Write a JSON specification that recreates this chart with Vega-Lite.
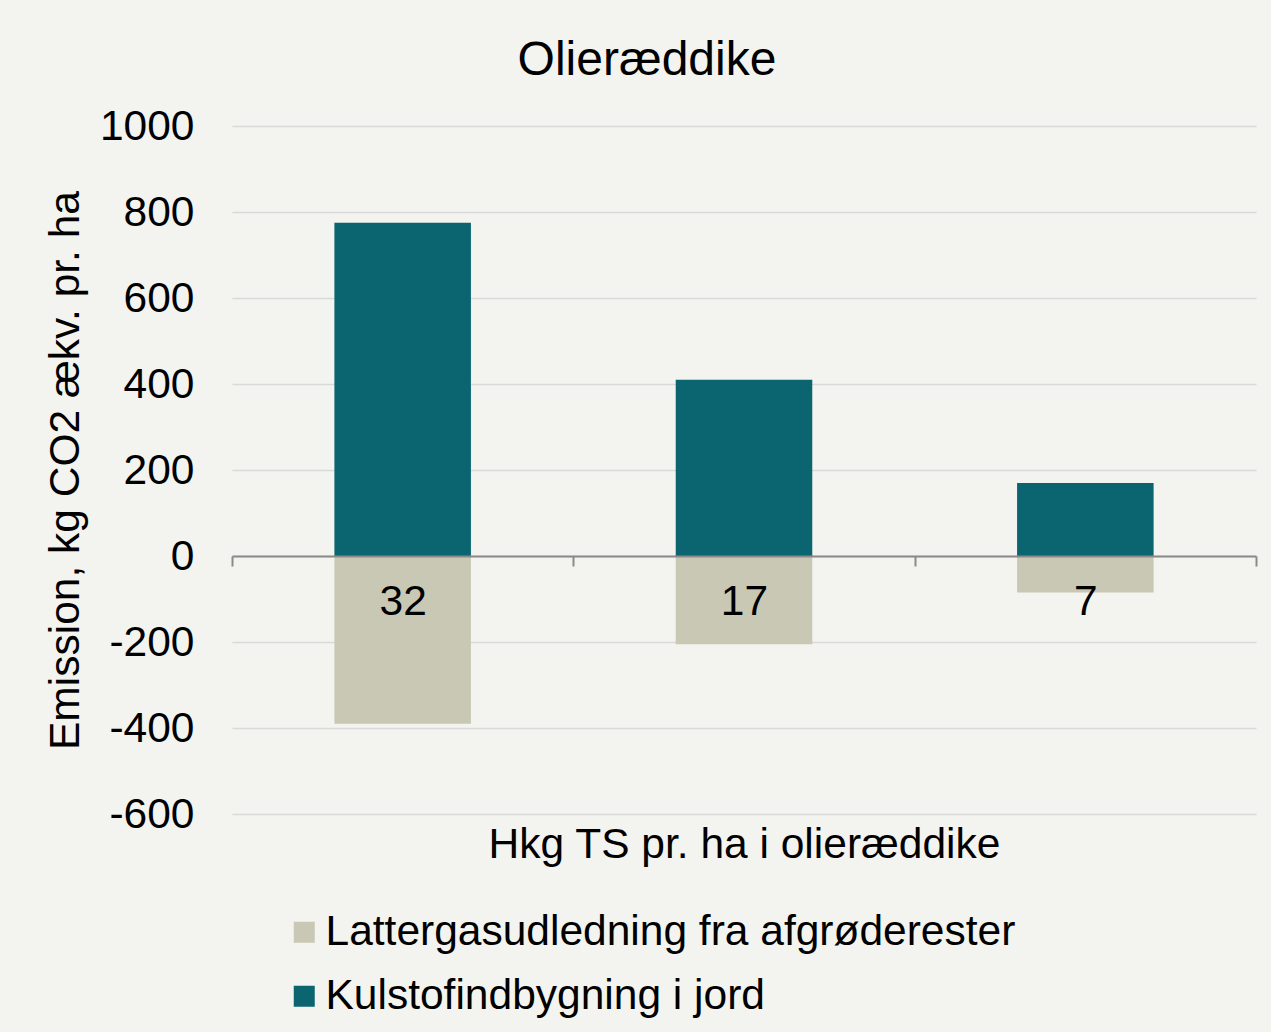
{
  "$schema": "https://vega.github.io/schema/vega-lite/v6.json",
  "autosize": {"type": "none"},
  "width": 1024,
  "height": 688,
  "padding": {"left": 232, "top": 126, "right": 15, "bottom": 218},
  "background": "#f3f3ef",
  "config": {
    "font": "Liberation Sans",
    "view": {"stroke": null}
  },
  "title": {
    "text": "Olieræddike",
    "fontSize": 48,
    "fontWeight": "normal",
    "color": "#000000",
    "anchor": "middle",
    "dx": -97,
    "offset": 20
  },
  "data": {
    "values": [
      {"kat": "32", "serie": "Kulstofindbygning i jord", "værdi": 775},
      {"kat": "32", "serie": "Lattergasudledning fra afgrøderester", "værdi": -390},
      {"kat": "17", "serie": "Kulstofindbygning i jord", "værdi": 410},
      {"kat": "17", "serie": "Lattergasudledning fra afgrøderester", "værdi": -205},
      {"kat": "7", "serie": "Kulstofindbygning i jord", "værdi": 170},
      {"kat": "7", "serie": "Lattergasudledning fra afgrøderester", "værdi": -85}
    ]
  },
  "mark": {"type": "bar", "width": {"band": 0.4}},
  "encoding": {
    "x": {
      "field": "kat",
      "type": "nominal",
      "sort": ["32", "17", "7"],
      "scale": {"paddingInner": 0, "paddingOuter": 0},
      "axis": {
        "title": "Hkg TS pr. ha i olieræddike",
        "titleFontSize": 42.5,
        "titleFontWeight": "normal",
        "titleColor": "#000000",
        "titlePadding": 201,
        "offset": -258,
        "zindex": 1,
        "labelAngle": 0,
        "labelFontSize": 42.5,
        "labelColor": "#000000",
        "labelPadding": 14,
        "domainColor": "#8a8a8a",
        "domainWidth": 2,
        "tickBand": "extent",
        "tickColor": "#8a8a8a",
        "tickWidth": 2,
        "tickSize": 10,
        "grid": false
      }
    },
    "y": {
      "field": "værdi",
      "type": "quantitative",
      "stack": null,
      "scale": {"domain": [-600, 1000], "nice": false},
      "axis": {
        "title": "Emission, kg CO2 ækv. pr. ha",
        "titleFontSize": 42.5,
        "titleFontWeight": "normal",
        "titleColor": "#000000",
        "titlePadding": 12,
        "values": [-600, -400, -200, 0, 200, 400, 600, 800, 1000],
        "labelExpr": "datum.value < 0 ? '-' + abs(datum.value) : '' + datum.value",
        "labelFontSize": 42.5,
        "labelColor": "#000000",
        "labelPadding": 38,
        "domain": false,
        "ticks": false,
        "grid": true,
        "gridColor": "#d9d9d9",
        "gridWidth": 1.5
      }
    },
    "color": {
      "field": "serie",
      "type": "nominal",
      "scale": {
        "domain": ["Lattergasudledning fra afgrøderester", "Kulstofindbygning i jord"],
        "range": ["#c8c8b4", "#0a6570"]
      },
      "legend": {
        "title": null,
        "orient": "none",
        "legendX": 51,
        "legendY": 785,
        "symbolType": "square",
        "symbolSize": 441,
        "symbolStrokeWidth": 0,
        "symbolOpacity": 1,
        "labelFontSize": 42.5,
        "labelColor": "#000000",
        "labelOffset": 0,
        "rowPadding": 21,
        "labelLimit": 1000
      }
    }
  }
}
